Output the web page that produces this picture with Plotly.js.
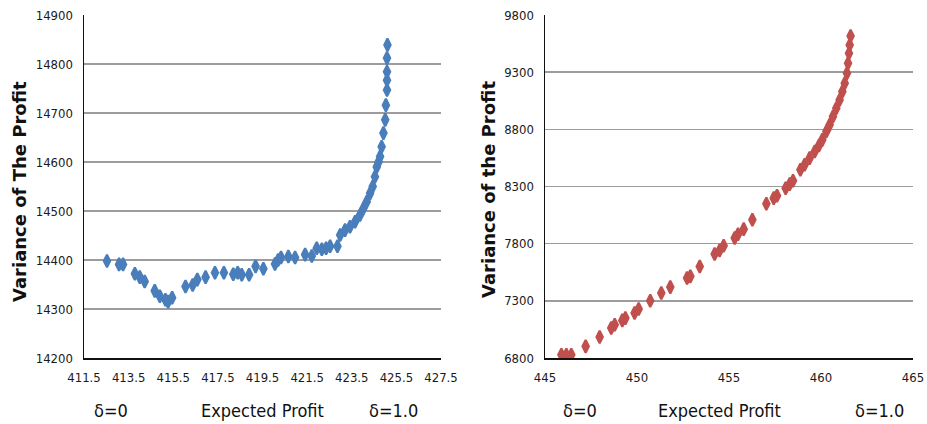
<!DOCTYPE html>
<html><head><meta charset="utf-8">
<script src="https://cdn.plot.ly/plotly-3.0.1.min.js"></script>
<style>html,body{margin:0;padding:0;background:#fff;}#chart{width:927px;height:424px;}</style>
</head><body><div id="chart"></div>
<script>
// Left chart (blue)
const leftX = [412.53, 413.07, 413.25, 413.78, 414.0, 414.22, 414.67, 414.9, 415.15, 415.27, 415.45, 416.05, 416.37, 416.58, 416.95, 417.37, 417.77, 418.19, 418.39, 418.57, 418.9, 419.19, 419.54, 420.06, 420.2, 420.33, 420.66, 420.96, 421.41, 421.71, 421.93, 422.16, 422.35, 422.53, 422.86, 422.98, 423.2, 423.42, 423.65, 423.87, 424.02, 424.17, 424.32, 424.44, 424.54, 424.62, 424.7, 424.77, 424.84, 424.92, 425.0, 425.03, 425.08, 425.08, 425.08, 425.08, 425.1];
const leftY = [14398, 14391, 14391, 14372, 14365, 14356, 14337, 14326, 14319, 14315, 14323, 14346, 14349, 14360, 14365, 14374, 14374, 14371, 14374, 14370, 14370, 14387, 14382, 14392, 14400, 14405, 14407, 14405, 14411, 14408, 14424, 14422, 14424, 14428, 14428, 14451, 14461, 14468, 14478, 14492, 14505, 14519, 14536, 14550, 14570, 14590, 14600, 14611, 14631, 14659, 14686, 14716, 14747, 14767, 14784, 14812, 14839];
// Right chart (red)
const rightX = [445.89, 446.16, 446.43, 447.21, 447.97, 448.6, 448.79, 449.2, 449.37, 449.87, 450.09, 450.72, 451.32, 451.81, 452.72, 452.9, 453.41, 454.22, 454.49, 454.71, 455.31, 455.49, 455.8, 456.27, 457.03, 457.43, 457.61, 458.08, 458.3, 458.48, 458.88, 459.11, 459.38, 459.66, 459.89, 460.07, 460.29, 460.47, 460.65, 460.83, 461.01, 461.16, 461.29, 461.41, 461.47, 461.52, 461.56, 461.61];
const rightY = [6829, 6829, 6829, 6902, 6984, 7062, 7091, 7129, 7149, 7193, 7228, 7301, 7368, 7420, 7499, 7514, 7601, 7709, 7741, 7782, 7849, 7883, 7927, 8009, 8149, 8198, 8219, 8285, 8321, 8350, 8446, 8490, 8548, 8606, 8658, 8708, 8781, 8839, 8912, 8984, 9057, 9130, 9203, 9290, 9378, 9465, 9538, 9617];
const leftXTicks = [411.5, 413.5, 415.5, 417.5, 419.5, 421.5, 423.5, 425.5, 427.5];
const leftYTicks = [14200, 14300, 14400, 14500, 14600, 14700, 14800, 14900];
const rightXTicks = [445, 450, 455, 460, 465];
const rightYTicks = [6800, 7300, 7800, 8300, 8800, 9300, 9800];
const yTitleLeft = "Variance of The Profit";
const yTitleRight = "Variance of the Profit";
const xTitle = "Expected Profit";
const startLabel = "δ=0";
const endLabel = "δ=1.0";

const narrow = "DejaVu Sans Condensed, Liberation Sans Narrow, sans-serif";
const tickFont = {family: narrow, size: 13, color: "#1a1a1a", stretch: "condensed"};
const gridC = "#9c9c9c";
const botFont = {family: narrow, size: 18, color: "#111", stretch: "condensed"};
const titleFont = {family: "DejaVu Sans, sans-serif", size: 18, color: "#111", weight: 700};

function mk(x, y, c, xa, ya) {
  return {x: x, y: y, xaxis: xa, yaxis: ya, type: "scatter", mode: "markers",
    marker: {symbol: "diamond-tall", size: 9, color: c, line: {color: c, width: 2.2}},
    hoverinfo: "skip", showlegend: false};
}
function xax(dom, rng, ticks, fmt) {
  return {domain: dom, range: rng, tickvals: ticks, ticktext: ticks.map(v => fmt(v)),
    showgrid: false, zeroline: false, showline: true, linecolor: "#111", linewidth: 1.5,
    ticks: "", tickfont: tickFont, ticklabelstandoff: 7, fixedrange: true};
}
function yax(dom, rng, ticks, anchor) {
  return {domain: dom, range: rng, tickvals: ticks, ticktext: ticks.map(v => String(v)),
    showgrid: true, gridcolor: gridC, gridwidth: 1.5, zeroline: false, showline: true,
    linecolor: "#111", linewidth: 1.5, ticks: "", tickfont: tickFont, ticklabelstandoff: 7,
    anchor: anchor, fixedrange: true};
}
function ann(text, px, py, font, angle) {
  return {text: text, x: px/927, y: 1 - py/424, xref: "paper", yref: "paper", showarrow: false,
    textangle: angle || 0, font: font, xanchor: "center", yanchor: "middle"};
}
const yd = [1 - 358/424, 1 - 15/424];
const layout = {
  width: 927, height: 424, margin: {l: 0, r: 0, t: 0, b: 0},
  paper_bgcolor: "#fff", plot_bgcolor: "#fff",
  xaxis: Object.assign(xax([84/927, 441/927], [411.5, 427.5], leftXTicks, v => v.toFixed(1)), {anchor: "y"}),
  yaxis: yax(yd, [14200, 14900], leftYTicks, "x"),
  xaxis2: Object.assign(xax([545/927, 913/927], [445, 465], rightXTicks, v => String(v)), {anchor: "y2"}),
  yaxis2: yax(yd, [6800, 9800], rightYTicks, "x2"),
  annotations: [
    ann(yTitleLeft, 19, 192, titleFont, -90),
    ann(yTitleRight, 488, 190, titleFont, -90),
    ann(startLabel, 111, 410, botFont),
    ann(xTitle, 262, 410, botFont),
    ann(endLabel, 393, 410, botFont),
    ann(startLabel, 580, 410, botFont),
    ann(xTitle, 719, 410, botFont),
    ann(endLabel, 879, 410, botFont)
  ]
};
const data = [mk(leftX, leftY, "#4a7ebb", "x", "y"), mk(rightX, rightY, "#c0504d", "x2", "y2")];
Plotly.newPlot("chart", data, layout, {staticPlot: true, displayModeBar: false});
</script></body></html>
